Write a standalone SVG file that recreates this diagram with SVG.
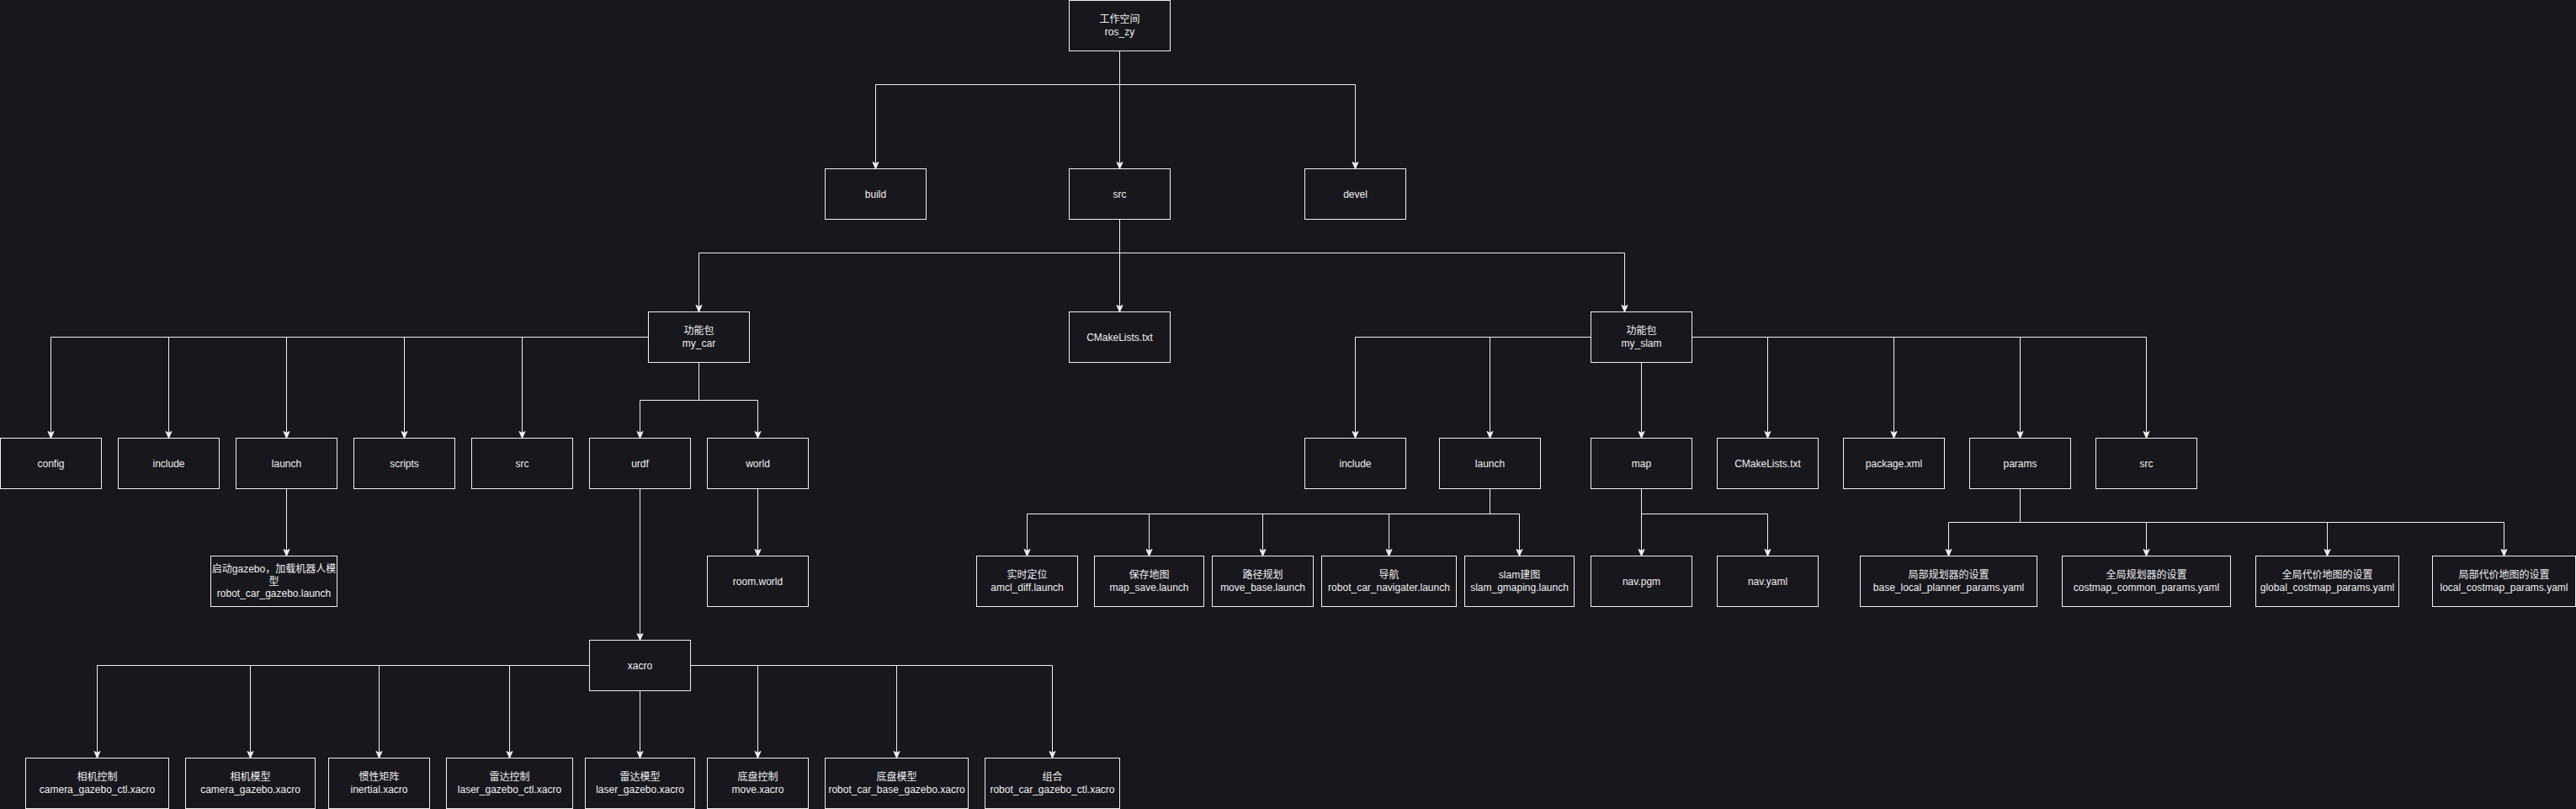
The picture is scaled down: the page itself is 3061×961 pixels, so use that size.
<svg xmlns="http://www.w3.org/2000/svg" width="3061" height="961" viewBox="0 0 3061 961">
<style>
.bg{fill:#18171e}
.n rect{fill:#18171e;stroke:#f0f0f0;stroke-width:1}
.n text{fill:#f0f0f0;font-family:"Liberation Sans","Noto Sans CJK SC",sans-serif;font-size:12px;text-anchor:middle}
.e path{fill:none;stroke:#f0f0f0;stroke-width:1;marker-end:url(#arr)}
</style>
<defs>
<marker id="arr" markerUnits="userSpaceOnUse" viewBox="-9 -5 10 10" markerWidth="10" markerHeight="10" refX="0" refY="0" orient="auto" overflow="visible">
<path d="M0,0 L-8,-3.5 L-6,0 L-8,3.5 Z" fill="#f0f0f0" stroke="#f0f0f0" stroke-width="1" stroke-linejoin="miter"/>
</marker>
</defs>
<rect class="bg" x="0" y="0" width="3061" height="961"/>
<g transform="translate(0.5,0.5)">
<g id="connectors" class="e">
<path d="M1330 60 V100 H1040 V200"/>
<path d="M1330 60 V200"/>
<path d="M1330 60 V100 H1610 V200"/>
<path d="M1330 260 V300 H830 V370"/>
<path d="M1330 260 V370"/>
<path d="M1330 260 V300 H1930 V370"/>
<path d="M770 400 H60 V520"/>
<path d="M770 400 H200 V520"/>
<path d="M770 400 H340 V520"/>
<path d="M770 400 H480 V520"/>
<path d="M770 400 H620 V520"/>
<path d="M830 430 V475 H760 V520"/>
<path d="M830 430 V475 H900 V520"/>
<path d="M340 580 V660"/>
<path d="M900 580 V660"/>
<path d="M760 580 V760"/>
<path d="M700 790 H115 V900"/>
<path d="M700 790 H297 V900"/>
<path d="M700 790 H450 V900"/>
<path d="M700 790 H605 V900"/>
<path d="M760 820 V900"/>
<path d="M820 790 H900 V900"/>
<path d="M820 790 H1065 V900"/>
<path d="M820 790 H1250 V900"/>
<path d="M1890 400 H1610 V520"/>
<path d="M1890 400 H1770 V520"/>
<path d="M1950 430 V520"/>
<path d="M2010 400 H2100 V520"/>
<path d="M2010 400 H2250 V520"/>
<path d="M2010 400 H2400 V520"/>
<path d="M2010 400 H2550 V520"/>
<path d="M1770 580 V610 H1220 V660"/>
<path d="M1770 580 V610 H1365 V660"/>
<path d="M1770 580 V610 H1500 V660"/>
<path d="M1770 580 V610 H1650 V660"/>
<path d="M1770 580 V610 H1805 V660"/>
<path d="M1950 580 V660"/>
<path d="M1950 580 V610 H2100 V660"/>
<path d="M2400 580 V620 H2315 V660"/>
<path d="M2400 580 V620 H2550 V660"/>
<path d="M2400 580 V620 H2765 V660"/>
<path d="M2400 580 V620 H2975 V660"/>
</g>
<g id="root" class="n"><rect x="1270" y="0" width="120" height="60"/><text x="1330" y="26.8">工作空间</text><text x="1330" y="41.2">ros_zy</text></g>
<g id="build" class="n"><rect x="980" y="200" width="120" height="60"/><text x="1040" y="234">build</text></g>
<g id="src_ws" class="n"><rect x="1270" y="200" width="120" height="60"/><text x="1330" y="234">src</text></g>
<g id="devel" class="n"><rect x="1550" y="200" width="120" height="60"/><text x="1610" y="234">devel</text></g>
<g id="my_car" class="n"><rect x="770" y="370" width="120" height="60"/><text x="830" y="396.8">功能包</text><text x="830" y="411.2">my_car</text></g>
<g id="cmake_ws" class="n"><rect x="1270" y="370" width="120" height="60"/><text x="1330" y="404">CMakeLists.txt</text></g>
<g id="my_slam" class="n"><rect x="1890" y="370" width="120" height="60"/><text x="1950" y="396.8">功能包</text><text x="1950" y="411.2">my_slam</text></g>
<g id="car_config" class="n"><rect x="0" y="520" width="120" height="60"/><text x="60" y="554">config</text></g>
<g id="car_include" class="n"><rect x="140" y="520" width="120" height="60"/><text x="200" y="554">include</text></g>
<g id="car_launch" class="n"><rect x="280" y="520" width="120" height="60"/><text x="340" y="554">launch</text></g>
<g id="car_scripts" class="n"><rect x="420" y="520" width="120" height="60"/><text x="480" y="554">scripts</text></g>
<g id="car_src" class="n"><rect x="560" y="520" width="120" height="60"/><text x="620" y="554">src</text></g>
<g id="car_urdf" class="n"><rect x="700" y="520" width="120" height="60"/><text x="760" y="554">urdf</text></g>
<g id="car_world" class="n"><rect x="840" y="520" width="120" height="60"/><text x="900" y="554">world</text></g>
<g id="slam_include" class="n"><rect x="1550" y="520" width="120" height="60"/><text x="1610" y="554">include</text></g>
<g id="slam_launch" class="n"><rect x="1710" y="520" width="120" height="60"/><text x="1770" y="554">launch</text></g>
<g id="slam_map" class="n"><rect x="1890" y="520" width="120" height="60"/><text x="1950" y="554">map</text></g>
<g id="slam_cmake" class="n"><rect x="2040" y="520" width="120" height="60"/><text x="2100" y="554">CMakeLists.txt</text></g>
<g id="slam_package" class="n"><rect x="2190" y="520" width="120" height="60"/><text x="2250" y="554">package.xml</text></g>
<g id="slam_params" class="n"><rect x="2340" y="520" width="120" height="60"/><text x="2400" y="554">params</text></g>
<g id="slam_src" class="n"><rect x="2490" y="520" width="120" height="60"/><text x="2550" y="554">src</text></g>
<g id="gazebo_launch" class="n"><rect x="250" y="660" width="150" height="60"/><text x="325" y="679.6">启动gazebo，加载机器人模</text><text x="325" y="694">型</text><text x="325" y="708.4">robot_car_gazebo.launch</text></g>
<g id="room_world" class="n"><rect x="840" y="660" width="120" height="60"/><text x="900" y="694">room.world</text></g>
<g id="amcl" class="n"><rect x="1160" y="660" width="120" height="60"/><text x="1220" y="686.8">实时定位</text><text x="1220" y="701.2">amcl_diff.launch</text></g>
<g id="map_save" class="n"><rect x="1300" y="660" width="130" height="60"/><text x="1365" y="686.8">保存地图</text><text x="1365" y="701.2">map_save.launch</text></g>
<g id="move_base" class="n"><rect x="1440" y="660" width="120" height="60"/><text x="1500" y="686.8">路径规划</text><text x="1500" y="701.2">move_base.launch</text></g>
<g id="navigater" class="n"><rect x="1570" y="660" width="160" height="60"/><text x="1650" y="686.8">导航</text><text x="1650" y="701.2">robot_car_navigater.launch</text></g>
<g id="gmapping" class="n"><rect x="1740" y="660" width="130" height="60"/><text x="1805" y="686.8">slam建图</text><text x="1805" y="701.2">slam_gmaping.launch</text></g>
<g id="nav_pgm" class="n"><rect x="1890" y="660" width="120" height="60"/><text x="1950" y="694">nav.pgm</text></g>
<g id="nav_yaml" class="n"><rect x="2040" y="660" width="120" height="60"/><text x="2100" y="694">nav.yaml</text></g>
<g id="local_planner" class="n"><rect x="2210" y="660" width="210" height="60"/><text x="2315" y="686.8">局部规划器的设置</text><text x="2315" y="701.2">base_local_planner_params.yaml</text></g>
<g id="costmap_common" class="n"><rect x="2450" y="660" width="200" height="60"/><text x="2550" y="686.8">全局规划器的设置</text><text x="2550" y="701.2">costmap_common_params.yaml</text></g>
<g id="global_costmap" class="n"><rect x="2680" y="660" width="170" height="60"/><text x="2765" y="686.8">全局代价地图的设置</text><text x="2765" y="701.2">global_costmap_params.yaml</text></g>
<g id="local_costmap" class="n"><rect x="2890" y="660" width="170" height="60"/><text x="2975" y="686.8">局部代价地图的设置</text><text x="2975" y="701.2">local_costmap_params.yaml</text></g>
<g id="xacro" class="n"><rect x="700" y="760" width="120" height="60"/><text x="760" y="794">xacro</text></g>
<g id="camera_ctl" class="n"><rect x="30" y="900" width="170" height="60"/><text x="115" y="926.8">相机控制</text><text x="115" y="941.2">camera_gazebo_ctl.xacro</text></g>
<g id="camera_model" class="n"><rect x="220" y="900" width="154" height="60"/><text x="297" y="926.8">相机模型</text><text x="297" y="941.2">camera_gazebo.xacro</text></g>
<g id="inertial" class="n"><rect x="390" y="900" width="120" height="60"/><text x="450" y="926.8">惯性矩阵</text><text x="450" y="941.2">inertial.xacro</text></g>
<g id="laser_ctl" class="n"><rect x="530" y="900" width="150" height="60"/><text x="605" y="926.8">雷达控制</text><text x="605" y="941.2">laser_gazebo_ctl.xacro</text></g>
<g id="laser_model" class="n"><rect x="695" y="900" width="130" height="60"/><text x="760" y="926.8">雷达模型</text><text x="760" y="941.2">laser_gazebo.xacro</text></g>
<g id="move_xacro" class="n"><rect x="840" y="900" width="120" height="60"/><text x="900" y="926.8">底盘控制</text><text x="900" y="941.2">move.xacro</text></g>
<g id="base_model" class="n"><rect x="980" y="900" width="170" height="60"/><text x="1065" y="926.8">底盘模型</text><text x="1065" y="941.2">robot_car_base_gazebo.xacro</text></g>
<g id="combined" class="n"><rect x="1170" y="900" width="160" height="60"/><text x="1250" y="926.8">组合</text><text x="1250" y="941.2">robot_car_gazebo_ctl.xacro</text></g>
</g>
</svg>
